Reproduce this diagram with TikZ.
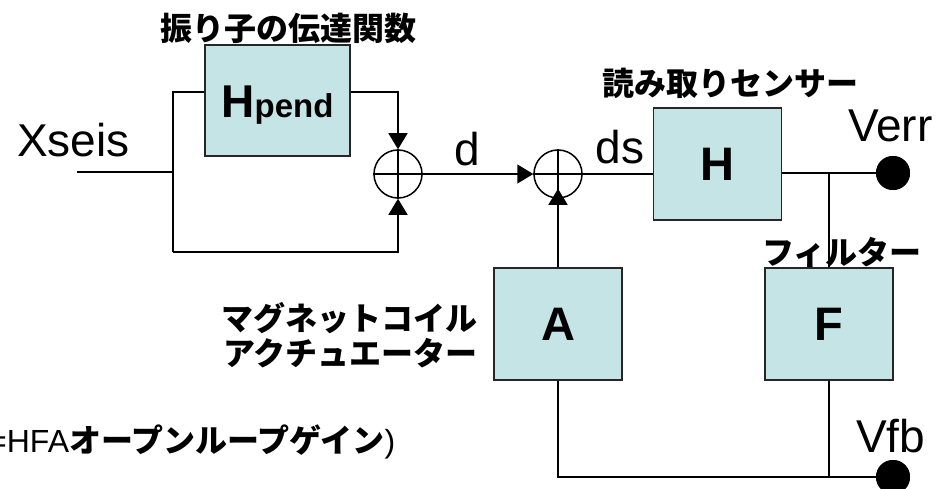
\documentclass[tikz,border=0pt]{standalone}
\usepackage{fontspec}
\setmainfont{Liberation Sans}
\newfontfamily\jp{Noto Sans CJK JP}
\usetikzlibrary{arrows.meta}
\definecolor{boxfill}{RGB}{196,228,230}
\begin{document}
\begin{tikzpicture}[x=1pt,y=-1pt,
 blk/.style={draw=black!85, line width=1.5pt, fill=boxfill, minimum width=128pt, minimum height=112pt, inner sep=0pt, font=\fontsize{47}{50}\selectfont\bfseries},
 sumc/.style={draw, circle, line width=1.5pt, minimum size=48pt, inner sep=0pt},
 wire/.style={line width=1.5pt},
 arr/.style={wire, -{Triangle[length=16pt,width=19pt]}},
 dot/.style={circle, fill=black, minimum size=34pt, inner sep=0pt},
 jl/.style={font=\jp\bfseries\fontsize{32}{35}\selectfont, inner sep=0pt},
 sig/.style={font=\fontsize{46}{50}\selectfont, inner sep=0pt}]
\useasboundingbox (0,0) rectangle (941,489);

% blocks
\node[blk, minimum width=145pt, minimum height=111pt] (hp) at (277.5,100.5) {};
\node[inner sep=0pt, anchor=base] (hptxt) at (277.5,118) {{\fontsize{46}{50}\selectfont\bfseries H}{\fontsize{33}{36}\selectfont\bfseries pend}};
\node[blk] (hb) at (717.5,164) {H};
\node[blk] (ab) at (558,324) {A};
\node[blk] (fb) at (829,324) {F};

% summing junctions
\node[sumc] (s1) at (398,174) {};
\node[sumc] (s2) at (558,174) {};
\draw[wire] (s1.north) -- (s1.south) (s1.west) -- (s1.east);
\draw[wire] (s2.north) -- (s2.south) (s2.west) -- (s2.east);

% output dots
\node[dot] (verr) at (893,173) {};
\node[dot] (vfb) at (893,477) {};

% coordinates
\coordinate (xin) at (77,172);
\coordinate (split) at (173,172);
\coordinate (lt) at (173,92);
\coordinate (lb) at (173,252);
\coordinate (rt) at (398,92);
\coordinate (rb) at (398,252);
\coordinate (jn) at (829,173);
\coordinate (ba) at (558,477);
\coordinate (bf) at (829,477);

% wires
\draw[wire] (xin) -- (split);
\draw[wire] (lb) -- (lt) -- (lt -| hp.west);
\draw[arr] (rt -| hp.east) -- (rt) -- (s1.north);
\draw[arr] (lb) -- (rb) -- (s1.south);
\draw[arr] (s1.east) -- (s2.west);
\draw[wire] (s2.east) -- (s2.east -| hb.west);
\draw[arr, shorten >=-10pt] (ab.north) -- (s2.south);
\draw[wire] (jn -| hb.east) -- (verr.center);
\draw[wire] (jn) -- (fb.north);
\draw[wire] (ab.south) -- (ba) -- (vfb.center);
\draw[wire] (fb.south) -- (bf);
\node[dot] at (verr) {};
\node[dot] at (vfb) {};

% labels
\node[jl] (lhp) at (288,28) {振り子の伝達関数};
\node[jl] (lhb) at (730,83) {読み取りセンサー};
\node[jl] (lfb) at (842,252) {フィルター};
\node[jl, align=right, anchor=east] (lab) at (478,335) {マグネットコイル\\[0pt]アクチュエーター};
\node[sig, anchor=base west] (lx) at (17,157) {Xseis};
\node[sig, anchor=base] (ld) at (467,165) {d};
\node[sig, anchor=base] (lds) at (620,164) {ds};
\node[sig, anchor=base west] (lverr) at (848,142) {Verr};
\node[sig, anchor=base west] (lvfb) at (856,452) {Vfb};
\node[inner sep=0pt, anchor=base west, font=\fontsize{32}{35}\selectfont] (lg) at (-12,452) {=HFA{\jp\bfseries オープンループゲイン})};
\end{tikzpicture}
\end{document}
